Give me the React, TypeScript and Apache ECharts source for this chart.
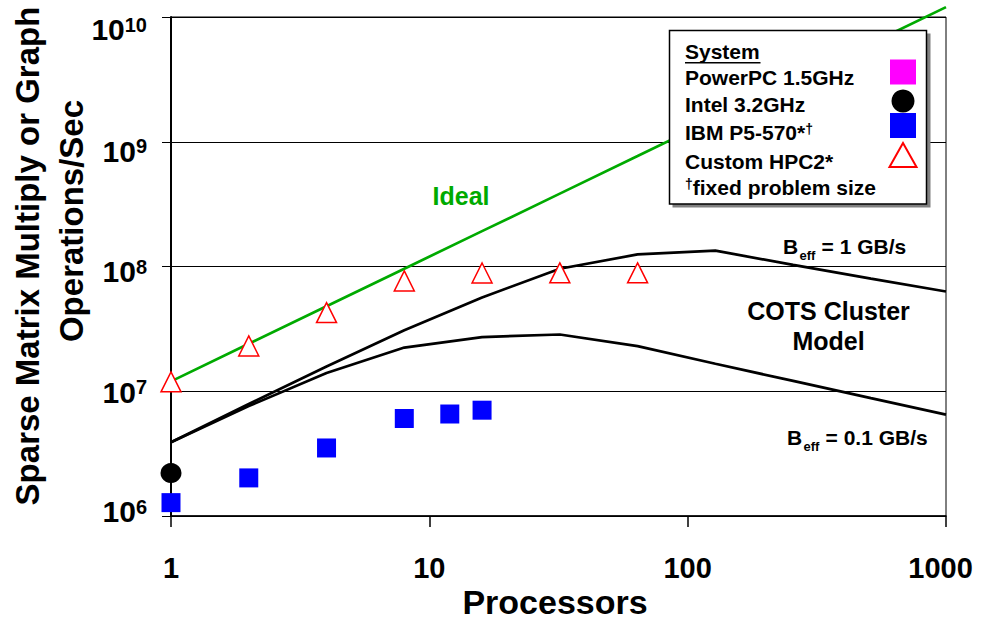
import React, { useEffect, useRef } from "react";
import * as echarts from "echarts";

// ---------------- data ----------------
const modelProcs = [1, 2, 4, 8, 16, 32, 64, 128, 256, 512, 1000];
const idealOps = [1.2e7, 2.4e7, 4.8e7, 9.6e7, 1.92e8, 3.84e8, 7.68e8, 1.54e9, 3.07e9, 6.14e9, 1.2e10];
const beff1Ops = [3.9e6, 7.9e6, 1.58e7, 3.08e7, 5.65e7, 9.6e7, 1.25e8, 1.34e8, 1.03e8, 8.0e7, 6.3e7];
const beff01Ops = [3.9e6, 7.6e6, 1.4e7, 2.24e7, 2.72e7, 2.85e7, 2.3e7, 1.66e7, 1.21e7, 8.8e6, 6.5e6];

const hpc2Procs = [1, 2, 4, 8, 16, 32, 64];
const hpc2Ops = [1.19e7, 2.31e7, 4.27e7, 7.66e7, 8.87e7, 8.9e7, 8.9e7];

const ibmProcs = [1, 2, 4, 8, 12, 16];
const ibmOps = [1.28e6, 2.02e6, 3.51e6, 6.05e6, 6.57e6, 7.05e6];

const intelProcs = [1];
const intelOps = [2.21e6];

const powerpcProcs: number[] = [];
const powerpcOps: number[] = [];

const xTicks = [1, 10, 100, 1000];
const yTickExponents = [6, 7, 8, 9, 10];

const legendTitle = "System";
const legendNames = ["PowerPC 1.5GHz", "Intel 3.2GHz", "IBM P5-570*", "Custom HPC2*"];
const legendFootnote = "fixed problem size";

// ---------------- layout / style ----------------
const FONT = '"Liberation Sans", Arial, Helvetica, sans-serif';
const Y_LABEL_NUDGE = [-4.5, 1, 5, 9.3, 12.8];
const GREEN = "#00AA00";
const RED = "#FF0000";
const BLUE = "#0000FF";
const MAGENTA = "#FF00FF";

const pairs = (xs: number[], ys: number[]) => xs.map((x, i) => [x, ys[i]]);

function txt(x: number, y: number, text: string, size: number, opts: any = {}) {
  const align = opts.align || "left";
  const va = opts.va || "middle";
  return {
    type: "text",
    x,
    y,
    z: opts.z ?? 20,
    rotation: opts.rotation || 0,
    style: {
      text,
      fill: opts.color || "#000",
      fontSize: size,
      fontWeight: "bold",
      fontFamily: FONT,
      align,
      verticalAlign: va,
      textAlign: align,
      textVerticalAlign: va,
      lineHeight: opts.lineHeight,
      rich: opts.rich,
    },
  };
}

export default function App() {
  const ref = useRef<HTMLDivElement>(null);

  useEffect(() => {
    const el = ref.current!;
    const chart = echarts.init(el, null, { renderer: "svg" });

    const lineSeries = (name: string, ys: number[], color: string) => ({
      name,
      type: "line",
      data: pairs(modelProcs, ys),
      symbol: "none",
      showSymbol: false,
      clip: false,
      z: 2,
      lineStyle: { color, width: 2.7 },
    });

    const tickFont = { fontSize: 29, fontWeight: "bold", fontFamily: FONT, color: "#000" };

    chart.setOption({
      animation: false,
      backgroundColor: "#fff",
      grid: {
        left: 171,
        top: 17,
        right: 40,
        bottom: 104,
        show: true,
        borderColor: "#000",
        borderWidth: 1,
        backgroundColor: "transparent",
      },
      xAxis: {
        type: "log",
        logBase: 10,
        min: xTicks[0],
        max: xTicks[xTicks.length - 1],
        axisLine: { show: true, onZero: false, lineStyle: { color: "#000", width: 1.5 } },
        axisTick: { show: true, length: 11, lineStyle: { color: "#000", width: 1.5 } },
        splitLine: { show: false },
        axisLabel: {
          show: true,
          margin: 37,
          ...tickFont,
          formatter: (v: number) => {
            const r = Math.round(v);
            return r === xTicks[xTicks.length - 1] ? `{r|${r}}` : `{n|${r}}`;
          },
          rich: {
            n: { ...tickFont },
            r: { ...tickFont, padding: [0, 11, 0, 0] },
          },
        },
      },
      yAxis: {
        type: "log",
        logBase: 10,
        min: Math.pow(10, yTickExponents[0]),
        max: Math.pow(10, yTickExponents[yTickExponents.length - 1]),
        axisLine: { show: true, onZero: false, lineStyle: { color: "#000", width: 2 } },
        axisTick: { show: true, length: 9, lineStyle: { color: "#000", width: 1 } },
        splitLine: { show: true, lineStyle: { color: "#000", width: 1 } },
        axisLabel: { show: false },
      },
      series: [
        lineSeries("Ideal", idealOps, GREEN),
        lineSeries("Beff = 1 GB/s", beff1Ops, "#000"),
        lineSeries("Beff = 0.1 GB/s", beff01Ops, "#000"),
        {
          name: "IBM P5-570",
          type: "scatter",
          data: pairs(ibmProcs, ibmOps),
          symbol: "rect",
          symbolSize: 19,
          clip: false,
          z: 4,
          itemStyle: { color: BLUE, opacity: 1 },
        },
        {
          name: "Intel 3.2GHz",
          type: "scatter",
          data: pairs(intelProcs, intelOps),
          symbol: "circle",
          symbolSize: [21, 20],
          clip: false,
          z: 4,
          itemStyle: { color: "#000", opacity: 1 },
        },
        {
          name: "PowerPC 1.5GHz",
          type: "scatter",
          data: pairs(powerpcProcs, powerpcOps),
          symbol: "rect",
          symbolSize: 19,
          clip: false,
          z: 4,
          itemStyle: { color: MAGENTA, opacity: 1 },
        },
        {
          name: "Custom HPC2",
          type: "scatter",
          data: pairs(hpc2Procs, hpc2Ops),
          symbol: "triangle",
          symbolSize: [20, 20],
          clip: false,
          z: 5,
          itemStyle: { color: "#fff", borderColor: RED, borderWidth: 1.5, opacity: 1 },
        },
      ],
    });

    const elements: any[] = [];

    // y tick labels (10^n)
    yTickExponents.forEach((e, i) => {
      const py = chart.convertToPixel({ yAxisIndex: 0 }, Math.pow(10, e)) as number;
      elements.push(
        txt(147, py + Y_LABEL_NUDGE[i], `{b|10}{s|${e}}`, 29, {
          align: "right",
          rich: {
            b: { fontSize: 30, fontWeight: "bold", fontFamily: FONT, fill: "#000", color: "#000" },
            s: { fontSize: 20, fontWeight: "bold", fontFamily: FONT, fill: "#000", color: "#000", verticalAlign: "top" },
          },
        })
      );
    });

    // axis titles
    elements.push(txt(27, 256, "Sparse Matrix Multiply or Graph", 33, { align: "center", rotation: Math.PI / 2 }));
    elements.push(txt(71, 221, "Operations/Sec", 33, { align: "center", rotation: Math.PI / 2 }));
    elements.push(txt(555, 602, "Processors", 34, { align: "center" }));

    // annotations
    elements.push(txt(461, 196, "Ideal", 25, { align: "center", color: GREEN }));
    elements.push(txt(828.5, 326, "COTS Cluster\nModel", 25, { align: "center", lineHeight: 30 }));

    const beff = (x: number, baseline: number, rest: string) => {
      elements.push(txt(x, baseline - 0.3465 * 21, "B", 21));
      elements.push(txt(x + 16.5, baseline + 6 - 0.3465 * 13, "eff", 13));
      elements.push(txt(x + 16.5 + 16.2, baseline - 0.3465 * 21, rest, 21));
    };
    beff(783, 254, " = 1 GB/s");
    beff(787, 445, " = 0.1 GB/s");

    // legend box
    elements.push({ type: "rect", z: 10, shape: { x: 672.5, y: 33.5, width: 258, height: 174 }, style: { fill: "#808080" } });
    elements.push({
      type: "rect",
      z: 11,
      shape: { x: 669.5, y: 30.5, width: 257, height: 173.5 },
      style: { fill: "#fff", stroke: "#000", lineWidth: 1.5 },
    });
    const LX = 685;
    const rowY = [51.5, 77.5, 104.2, 132.5, 161.5, 187.5];
    const supRich = {
      n: { fontSize: 21, fontWeight: "bold", fontFamily: FONT, fill: "#000", color: "#000" },
      sup: { fontSize: 14, fontWeight: "bold", fontFamily: FONT, fill: "#000", color: "#000", verticalAlign: "top" },
    };
    elements.push(txt(LX, rowY[0], legendTitle, 21, { z: 12 }));
    elements.push({ type: "line", z: 12, shape: { x1: LX, y1: 62.8, x2: LX + 75.5, y2: 62.8 }, style: { stroke: "#000", lineWidth: 1.5 } });
    elements.push(txt(LX, rowY[1], legendNames[0], 21, { z: 12 }));
    elements.push(txt(LX, rowY[2], legendNames[1], 21, { z: 12 }));
    elements.push(txt(LX, rowY[3], `{n|${legendNames[2]}}{sup|\u2020}`, 21, { z: 12, rich: supRich }));
    elements.push(txt(LX, rowY[4], legendNames[3], 21, { z: 12 }));
    elements.push(txt(LX, rowY[5], `{sup|\u2020}{n|${legendFootnote}}`, 21, { z: 12, rich: supRich }));

    elements.push({ type: "rect", z: 12, shape: { x: 890, y: 59.5, width: 26, height: 25 }, style: { fill: MAGENTA } });
    elements.push({ type: "circle", z: 12, shape: { cx: 903, cy: 101, r: 11.5 }, style: { fill: "#000" } });
    elements.push({ type: "rect", z: 12, shape: { x: 890, y: 113, width: 26, height: 25 }, style: { fill: BLUE } });
    elements.push({
      type: "polygon",
      z: 12,
      shape: { points: [[903, 143], [889.5, 167], [916.5, 167]] },
      style: { fill: "#fff", stroke: RED, lineWidth: 2 },
    });

    chart.setOption({ graphic: { elements } });

    return () => chart.dispose();
  }, []);

  return (
    <div
      ref={ref}
      style={{ position: "fixed", left: 0, top: 0, width: 986, height: 620, background: "#fff" }}
    />
  );
}
